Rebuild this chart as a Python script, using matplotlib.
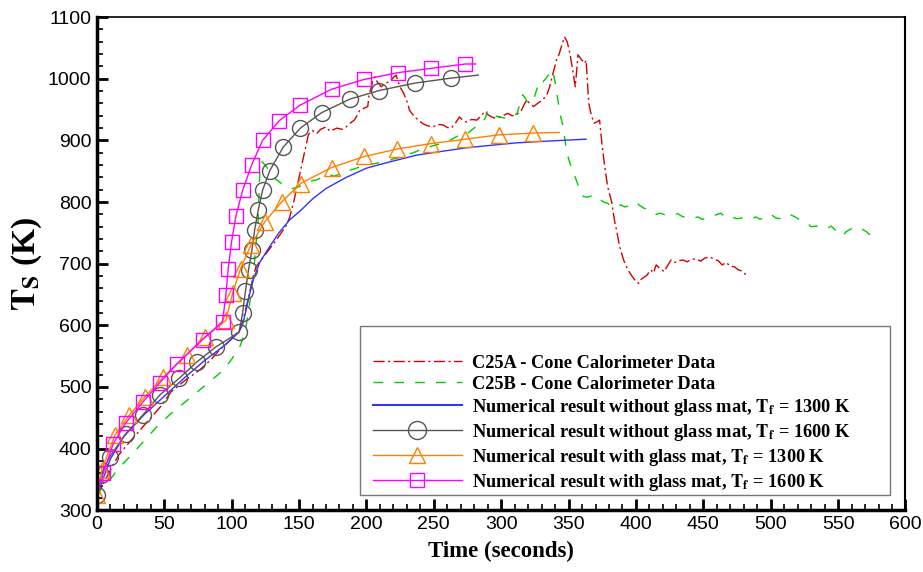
import matplotlib
matplotlib.use("Agg")
import matplotlib.pyplot as plt
from matplotlib.lines import Line2D
from matplotlib.patches import Rectangle
from matplotlib.ticker import MultipleLocator

plt.rcParams['mathtext.fontset'] = 'stix'

# ---------------- data ----------------
# Numerical result without glass mat, Tf = 1300 K (blue, no markers)
blue_x = [0, 10, 20, 35, 50, 65, 80, 95, 105, 108, 110, 113, 116, 121, 128, 135, 143, 151, 160, 170,
          185, 200, 217, 237, 255, 274, 292, 311, 335, 363]
blue_y = [324, 383, 420, 455, 485, 515, 543, 568, 588, 600, 618, 648, 674, 703, 727, 750, 771, 786, 805, 822,
          840, 855, 865, 876, 882, 888, 892, 896, 899, 902]

# Numerical result without glass mat, Tf = 1600 K (grey circles)
black_x = [0, 3, 9.6, 21.5, 33.9, 46.7, 61, 74.4, 88.3, 105.6, 108.1, 110.2, 112.5, 115, 117, 119.7, 122.9,
           128.3, 138.2, 151, 166.7, 187.7, 209.5, 235.9, 262.4, 283]
black_y = [324, 357, 387, 424, 454, 487, 514, 541, 565, 589, 620, 655, 690, 722, 754, 787, 819,
           851, 889, 920, 945, 967, 981, 993, 1001, 1006]

# Numerical result with glass mat, Tf = 1300 K (orange triangles)
orange_x = [0, 3.5, 13.4, 24, 35.6, 49.2, 66.5, 80.1, 95.7, 100.7, 106.6, 114.2, 124.6, 137, 151.1, 174.1,
            198.5, 222.8, 248.2, 273.5, 298.2, 323.7, 343]
orange_y = [324, 365, 422, 454, 484, 516, 552, 581, 608, 652, 692, 730, 768, 800, 830, 856,
            874, 886, 895, 902, 909, 912, 913]

# Numerical result with glass mat, Tf = 1600 K (magenta squares)
mag_x = [0, 4.7, 12.1, 21.5, 34.3, 46.7, 59.6, 78.4, 93.2, 95.7, 97.4, 99.9, 103.1, 108.1, 114.8, 122.9,
         135.3, 150.6, 174.1, 198.3, 223.5, 248.2, 273.4, 281]
mag_y = [324, 360, 408, 442, 476, 507, 538, 577, 606, 649, 692, 735, 777, 819, 860, 900,
         932, 957, 983, 999, 1010, 1017, 1024, 1024]

# C25A - Cone Calorimeter Data (red dash-dot)
c25a_x = [0, 5, 10, 16, 24, 32, 40, 48, 55, 65, 76, 85, 91, 100, 105, 108, 112, 115, 118, 125, 132, 140,
          143, 146, 149, 151, 154, 157, 160, 163, 166, 170, 173, 175, 178, 182, 185, 188, 191, 193, 195,
          198, 201, 202, 203.8, 205, 206.2, 208, 211, 214, 217, 220, 222, 224.8, 227, 229.7, 232, 234,
          236, 239, 242, 245, 249.5, 253, 257, 260, 263, 266, 269, 272, 274, 278, 282, 285, 288, 290,
          293, 296, 299, 302, 305, 308, 311, 313, 315, 317, 319, 321, 324, 327, 331, 334, 336, 338,
          341, 343, 345, 347, 349, 351, 353, 355, 357, 360, 362, 363, 365, 367, 369, 371, 373, 375,
          377, 379, 382, 384, 386, 388, 391, 394, 397, 400, 402, 404, 406, 408, 411, 413, 415, 418,
          421, 423, 426, 429, 432, 435, 438, 441, 445, 448, 451, 455, 458, 461, 464, 467, 470, 473,
          476, 479, 482]
c25a_y = [322, 345, 365, 389, 410, 430, 450, 470, 492, 510, 527, 545, 560, 578, 590, 605, 640, 670, 695,
          715, 735, 760, 775, 800, 830, 850, 880, 910, 916, 911, 918, 922, 915, 917, 920, 918, 922, 928,
          933, 940, 949, 952, 955, 975, 987, 1000, 1003, 995, 987, 993, 995, 1002, 1006, 987, 979, 966,
          949, 943, 938, 932, 927, 924, 922, 926, 925, 921, 920, 928, 938, 932, 930, 934, 933, 940, 947,
          942, 938, 936, 938, 941, 944, 940, 941, 945, 949, 958, 966, 960, 955, 960, 966, 975, 987, 1005,
          1030, 1040, 1055, 1068, 1060, 1041, 1015, 987, 1039, 1030, 1025, 1030, 960, 940, 928, 930, 933,
          890, 855, 825, 800, 771, 750, 727, 705, 690, 680, 671, 668, 675, 678, 681, 690, 685, 698, 692,
          687, 695, 706, 702, 705, 706, 703, 707, 708, 704, 709, 711, 707, 705, 698, 702, 696, 695, 690,
          688, 681]

# C25B - Cone Calorimeter Data (green dashed)
c25b_x = [0, 3, 9.6, 16, 24.5, 34, 44.3, 54, 64, 72, 78.9, 86, 93.7, 100, 106, 110, 113, 116, 118, 119.7,
          120.9, 122, 125, 128, 131, 134, 137, 140, 145, 150, 155, 160, 163, 167, 172, 176, 180, 185, 190,
          195, 200, 205, 210, 215, 220, 224, 227, 232, 237, 242, 247, 252, 257, 262, 266, 269, 273, 277,
          281, 284, 288, 290, 292, 295, 299, 303, 306, 309, 312, 314, 316, 318, 320, 322, 324, 326, 329,
          331, 333, 336, 338, 340, 342, 344, 346, 348, 350, 352, 355, 358, 361, 364, 367, 370, 373, 376,
          379, 382, 385, 389, 392, 396, 400, 403, 406, 409, 412, 415, 418, 422, 426, 431, 434, 437, 442,
          446, 449, 452, 456, 459, 463, 466, 469, 472, 475, 478, 482, 486, 489, 492, 496, 500, 504, 508,
          511, 514, 518, 521, 525, 528, 530, 534, 538, 542, 545, 549, 552, 554, 556, 560, 564, 567, 571,
          574, 576, 578]
c25b_y = [322, 335, 349, 368, 387, 410, 435, 455, 473, 487, 500, 513, 527, 545, 565, 590, 630, 679, 730,
          771, 852, 866, 860, 850, 840, 835, 830, 825, 822, 825, 830, 835, 836, 840, 845, 842, 845, 850,
          853, 857, 860, 862, 864, 866, 870, 872, 874, 878, 882, 887, 890, 893, 895, 900, 905, 909, 908,
          915, 922, 925, 935, 949, 945, 940, 938, 936, 937, 938, 945, 960, 974, 968, 960, 962, 966, 980,
          998, 995, 1000, 1009, 1015, 995, 966, 940, 922, 890, 870, 857, 840, 822, 809, 808, 810, 811,
          805, 800, 798, 792, 795, 795, 792, 795, 800, 794, 790, 788, 784, 780, 782, 779, 780, 781, 777,
          775, 773, 776, 772, 773, 776, 779, 782, 776, 773, 775, 773, 774, 776, 773, 776, 772, 776, 780,
          774, 773, 776, 780, 776, 772, 768, 764, 760, 761, 758, 757, 761, 752, 746, 746, 752, 757, 760,
          757, 752, 746, 747, 752]

x_ticks = [0, 50, 100, 150, 200, 250, 300, 350, 400, 450, 500, 550, 600]
y_ticks = [300, 400, 500, 600, 700, 800, 900, 1000, 1100]

labels = ["C25A - Cone Calorimeter Data",
          "C25B - Cone Calorimeter Data",
          r"Numerical result without glass mat, $\mathbf{T_f}$ = 1300 K",
          r"Numerical result without glass mat, $\mathbf{T_f}$ = 1600 K",
          r"Numerical result with glass mat, $\mathbf{T_f}$ = 1300 K",
          r"Numerical result with glass mat, $\mathbf{T_f}$ = 1600 K"]

# ---------------- styles ----------------
RED = '#d40000'
GREEN = '#00cc00'
BLUE = '#3333ff'
GREY = '#555555'
ORANGE = '#ff8000'
MAG = '#ff00ff'
dashdot = (0, (8, 2.5, 1.5, 2.5))
dashed = (0, (7, 8))

fig = plt.figure(figsize=(9.23, 5.72), dpi=100)
ax = fig.add_axes([0.105, 0.108, 0.876, 0.862])

ax.plot(c25a_x, c25a_y, color=RED, lw=1.0, ls=dashdot)
ax.plot(c25b_x, c25b_y, color=GREEN, lw=1.0, ls=dashed)
ax.plot(blue_x, blue_y, color=BLUE, lw=1.0)
ax.plot(black_x, black_y, color=GREY, lw=1.0, marker='o', ms=11.5, mfc='none', mec=GREY, mew=1.0,
        markevery=slice(0, len(black_x) - 1))
ax.plot(orange_x, orange_y, color=ORANGE, lw=1.0, marker='^', ms=11, mfc='none', mec=ORANGE, mew=1.0,
        markevery=slice(0, len(orange_x) - 1))
ax.plot(mag_x, mag_y, color=MAG, lw=1.0, marker='s', ms=10, mfc='none', mec=MAG, mew=1.0,
        markevery=slice(1, len(mag_x) - 1))

ax.set_xlim(0, 600)
ax.set_ylim(300, 1100)
ax.set_xticks(x_ticks)
ax.set_yticks(y_ticks)
ax.xaxis.set_minor_locator(MultipleLocator(10))
ax.yaxis.set_minor_locator(MultipleLocator(20))
ax.tick_params(which='major', direction='in', length=8, width=2, labelsize=14, pad=4)
ax.tick_params(which='minor', direction='in', length=4, width=1.2)
for lab in ax.get_xticklabels() + ax.get_yticklabels():
    lab.set_family('Liberation Sans')

ax.spines['left'].set_linewidth(2.5)
ax.spines['bottom'].set_linewidth(2.5)
ax.spines['top'].set_linewidth(1.2)
ax.spines['right'].set_linewidth(1.5)

ax.set_xlabel('Time (seconds)', family='Liberation Serif', fontweight='bold', fontsize=16.5, labelpad=6)
ax.set_ylabel(r'$\mathbf{T_S}$ (K)', family='Liberation Serif', fontweight='bold', fontsize=24)
ax.yaxis.set_label_coords(-0.066, 0.5)

handles = [Line2D([], [], color=RED, lw=1.0, ls=dashdot),
           Line2D([], [], color=GREEN, lw=1.0, ls=dashed),
           Line2D([], [], color=BLUE, lw=1.5),
           Line2D([], [], color=GREY, lw=1.0, marker='o', ms=13, mfc='none', mec=GREY),
           Line2D([], [], color=ORANGE, lw=1.0, marker='^', ms=12, mfc='none', mec=ORANGE),
           Line2D([], [], color=MAG, lw=1.0, marker='s', ms=10, mfc='none', mec=MAG)]

leg = ax.legend(handles, labels, loc='upper left', bbox_to_anchor=(0.330, 0.334), frameon=False,
                borderpad=0, handlelength=4.85, handletextpad=0.55, labelspacing=0.22, numpoints=1,
                prop={'family': 'Liberation Serif', 'weight': 'bold', 'size': 13.2})
ax.add_patch(Rectangle((0.325, 0.030), 0.656, 0.343, transform=ax.transAxes, fill=False,
                       edgecolor='#777777', lw=1.0, zorder=4))

fig.savefig('out.png', dpi=100)
